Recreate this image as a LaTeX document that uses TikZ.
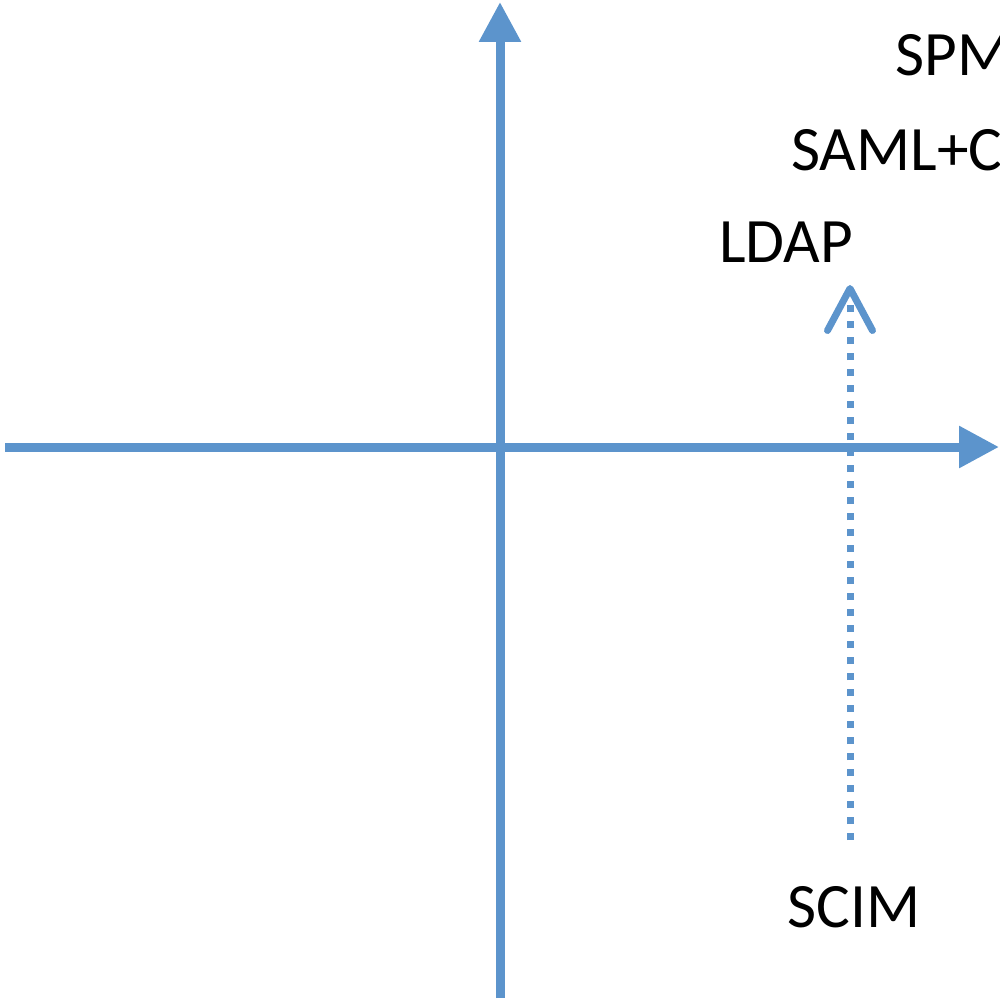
\documentclass[tikz,border=0pt]{standalone}
\usepackage{fontspec}
\setmainfont{Carlito}
\usetikzlibrary{arrows.meta}
\definecolor{axisblue}{RGB}{92,148,204}
\tikzset{
    axis/.style={draw=axisblue, line width=0.18cm, -{Triangle[length=0.8cm, width=0.8cm]}},
    shift arrow/.style={draw=axisblue, line width=0.14cm, dash pattern=on 0.14cm off 0.18cm,
        -{Straight Barb[length=0.84cm, width=0.9cm, line width=0.14cm, round]}},
    proto/.style={anchor=base west, inner sep=0pt, font=\fontsize{36}{42}\selectfont}
}
\begin{document}
\begin{tikzpicture}[x=0.02cm, y=-0.02cm]
            \useasboundingbox (0, 0) rectangle (1000, 1002);
            \clip (0, 0) rectangle (1000, 1002);

            \coordinate (O) at (500, 447);
            \coordinate (W) at (5, 447);
            \coordinate (E) at (999, 447);
            \coordinate (S) at (500, 998);
            \coordinate (N) at (500, 2);
            \coordinate (from) at (850, 840);
            \coordinate (to) at (850, 285);

            \node[proto] (spm) at (895, 75) {SPM};
            \node[proto] (saml) at (791, 170) {SAML+C};
            \node[proto] (ldap) at (719, 262) {LDAP};
            \node[proto] (scim) at (787, 927) {SCIM};

            \draw[axis] (W) -- (E);
            \draw[axis] (S) -- (N);
            \draw[shift arrow] (from) -- (to);
        \end{tikzpicture}
\end{document}
